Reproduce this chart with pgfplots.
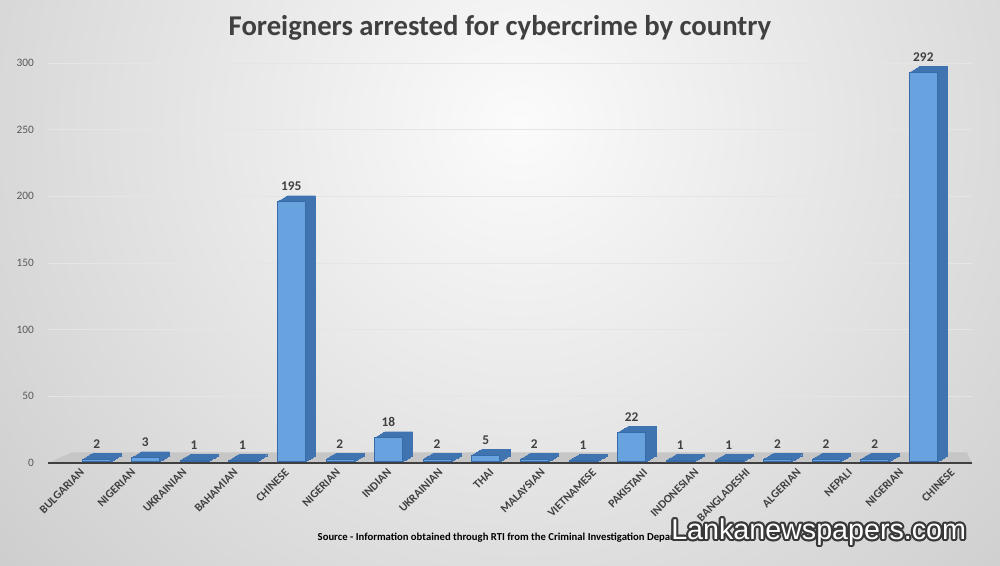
\documentclass[border=0pt]{standalone}
\usepackage{pgfplots}
\pgfplotsset{compat=1.18}
\usepackage{fontspec}
\setmainfont{Carlito}
\newfontfamily\wmfont{Liberation Sans}
\definecolor{barfront}{RGB}{104,163,224}
\definecolor{barside}{RGB}{64,116,176}
\definecolor{baredge}{RGB}{55,108,170}
\definecolor{txt}{RGB}{64,64,64}
\pgfplotstableread{
x y
0 2
1 3
2 1
3 1
4 195
5 2
6 18
7 2
8 5
9 2
10 1
11 22
12 1
13 1
14 2
15 2
16 2
17 292
}\arrests
\begin{document}
\begin{tikzpicture}
\begin{scope}
\clip (0pt,0pt) rectangle (750pt,423.75pt);
\shade[inner color=gray!3, outer color=gray!42] (390pt,330pt) circle (560pt);
\end{scope}
\node[font=\fontsize{21.5}{26}\selectfont\bfseries, text=txt, anchor=base] at (375pt,397pt) {Foreigners arrested for cybercrime by country};
\begin{axis}[at={(36pt,76.5pt)}, anchor=south west, scale only axis,
  width=693pt, height=300pt,
  xmin=-1, xmax=18, ymin=0, ymax=300, clip=false,
  /pgf/number format/assume math mode=true,
  axis line style={draw=none}, major tick length=0pt,
  ytick={0,50,...,300}, ymajorgrids,
  grid style={white!80!gray, line width=0.4pt},
  xtick={-0.411,0.642,1.695,2.747,3.800,4.853,5.906,6.959,8.011,9.064,10.117,11.170,12.222,13.275,14.328,15.381,16.434,17.487},
  xticklabels={BULGARIAN,NIGERIAN,UKRAINIAN,BAHAMIAN,CHINESE,NIGERIAN,INDIAN,UKRAINIAN,THAI,MALAYSIAN,VIETNAMESE,PAKISTANI,INDONESIAN,BANGLADESHI,ALGERIAN,NEPALI,NIGERIAN,CHINESE},
  xticklabel style={font=\fontsize{8.7}{9}\selectfont\bfseries, rotate=45, anchor=north east, inner sep=1pt, yshift=-3pt, text=txt},
  yticklabel style={font=\fontsize{8.5}{9}\selectfont, text=gray!70!black, anchor=east, xshift=-7pt},
]
\fill[gray!45] (axis cs:-1,0) -- (axis cs:18,0) -- ([shift={(-4pt,8pt)}]axis cs:18,0) -- ([shift={(18pt,8pt)}]axis cs:-1,0) -- cycle;
\draw[line width=1.6pt, gray!50!black] (axis cs:-1,0) -- (axis cs:18,0);
\pgfplotsinvokeforeach{9,8,7,6,5,4,3,2,1}{
\addplot[ybar, bar width=21pt, bar shift=0pt, fill=barside, draw=barside, line width=0.2pt, xshift=#1*0.85pt, yshift=1pt+#1*0.5pt, forget plot] table[x=x,y=y] {\arrests};
}
\addplot[ybar, bar width=21pt, bar shift=0pt, fill=barfront, draw=baredge, line width=0.4pt, yshift=1pt,
  nodes near coords, nodes near coords style={font=\fontsize{10}{12}\selectfont\bfseries, text=txt, yshift=4.5pt}] table[x=x,y=y] {\arrests};
\end{axis}
\node[font=\fontsize{8}{9}\selectfont\bfseries, text=black, anchor=base] at (382pt,18.5pt) {Source - Information obtained through RTI from the Criminal Investigation Department};
\foreach \a in {0,30,...,330}
  \node[anchor=base, font=\wmfont\fontsize{21.5}{24}\selectfont, text=gray!45!black] at ({614pt+1.6pt*cos(\a)},{19pt+1.6pt*sin(\a)}) {Lankanewspapers.com};
\node[anchor=base, font=\wmfont\fontsize{21.5}{24}\selectfont, text=white] at (614pt,19pt) {Lankanewspapers.com};
\end{tikzpicture}
\end{document}
